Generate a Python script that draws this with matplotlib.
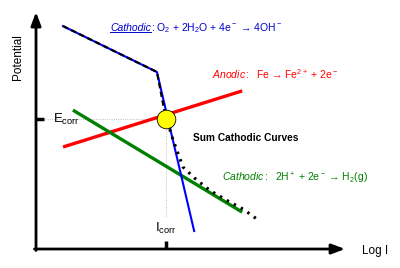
import matplotlib
matplotlib.use("Agg")
import matplotlib.pyplot as plt

plt.rcParams['font.family'] = ['Liberation Sans', 'DejaVu Sans']
plt.rcParams['mathtext.fontset'] = 'custom'
plt.rcParams['mathtext.rm'] = 'Liberation Sans'
plt.rcParams['mathtext.it'] = 'Liberation Sans:italic'
plt.rcParams['mathtext.bf'] = 'Liberation Sans:bold'

# polarisation lines, x = log I, y = potential (arbitrary units)
o2_logi = [0.9, 4.03, 5.27]
o2_e = [7.43, 5.9, 0.6]
fe_logi = [0.9, 6.87]
fe_e = [3.4, 5.27]
h2_logi = [1.23, 6.87]
h2_e = [4.63, 1.23]
# summed cathodic curve (dotted part below the corrosion point)
sum_logi = [4.3, 4.57, 4.9, 5.3, 5.8, 6.4, 6.9, 7.4]
sum_e = [4.5, 3.63, 2.73, 2.35, 1.95, 1.6, 1.33, 0.97]
e_corr = 4.33
i_corr = 4.33
x_end = 10.3
y_end = 7.9

fig = plt.figure(figsize=(4, 2.68), dpi=100)
ax = fig.add_axes([0, 0, 1, 1])
ax.set_xlim(-1.2, 12.13)
ax.set_ylim(-0.633, 8.3)
ax.axis('off')

# axes with arrows
arrow = dict(arrowstyle='-|>,head_length=0.8,head_width=0.3', lw=2, color='black',
             shrinkA=0, shrinkB=0)
ax.annotate('', xy=(x_end, 0), xytext=(-0.05, 0), arrowprops=arrow)
ax.annotate('', xy=(0, y_end), xytext=(0, -0.05), arrowprops=arrow)
ax.plot([0, 0.27], [e_corr, e_corr], color='black', lw=2.5, solid_capstyle='butt')
ax.plot([i_corr, i_corr], [0, 0.27], color='black', lw=2.5, solid_capstyle='butt')

# guide lines
ax.plot([0.3, i_corr], [e_corr, e_corr], color='#aaaaaa', lw=0.6, ls=':')
ax.plot([i_corr, i_corr], [1.1, e_corr], color='#aaaaaa', lw=0.6, ls=':')

ax.plot(fe_logi, fe_e, color='#ff0000', lw=2.4, solid_capstyle='butt')
ax.plot(h2_logi, h2_e, color='#008000', lw=2.4, solid_capstyle='butt')
ax.plot(o2_logi, o2_e, color='#0000ff', lw=1.5)
ax.plot(o2_logi[:2] + [sum_logi[0]], o2_e[:2] + [sum_e[0]], color='black', lw=1.6,
        dashes=(2.5, 1.5))
ax.plot(sum_logi, sum_e, color='black', lw=2.2, ls=(0, (0.8, 1.8)))

ax.scatter([i_corr], [e_corr], s=180, color='#ffff00', edgecolor='black', lw=0.6, zorder=5)

# labels
ax.text(-0.6, 6.4, 'Potential', rotation=90, ha='center', va='center', fontsize=8.5)
ax.text(10.87, -0.07, 'Log I', ha='left', va='center', fontsize=8.5)
ax.text(0.57, e_corr, r'E$_{\rm corr}$', ha='left', va='center', fontsize=9.5)
ax.text(i_corr, 0.7, r'I$_{\rm corr}$', ha='center', va='center', fontsize=9.5)

t1 = ax.text(2.47, 7.37, 'Cathodic', color='#0000cc', style='italic', fontsize=7.5,
             va='center', ha='left')
ax.annotate(': O$_2$ + 2H$_2$O + 4e$^-$ → 4OH$^-$', xy=(1, 0.5),
            xycoords=t1, va='center', ha='left', color='#0000cc', fontsize=7.5)
ax.text(5.87, 5.83, r'$\mathit{Anodic:}$  Fe → Fe$^{2+}$ + 2e$^-$',
        color='#ff0000', fontsize=7.5, va='center', ha='left')
ax.text(5.23, 3.7, 'Sum Cathodic Curves', fontsize=7.3, fontweight='bold', va='center', ha='left')
ax.text(6.2, 2.37, r'$\mathit{Cathodic:}$  2H$^+$ + 2e$^-$ → H$_2$(g)',
        color='#008000', fontsize=7.5, va='center', ha='left')

# underline "Cathodic"
fig.canvas.draw()
bb = t1.get_window_extent().transformed(ax.transData.inverted())
ax.plot([bb.x0, bb.x1], [bb.y0 + 0.02, bb.y0 + 0.02], color='#0000cc', lw=0.7)

fig.savefig('out.png', dpi=100)
